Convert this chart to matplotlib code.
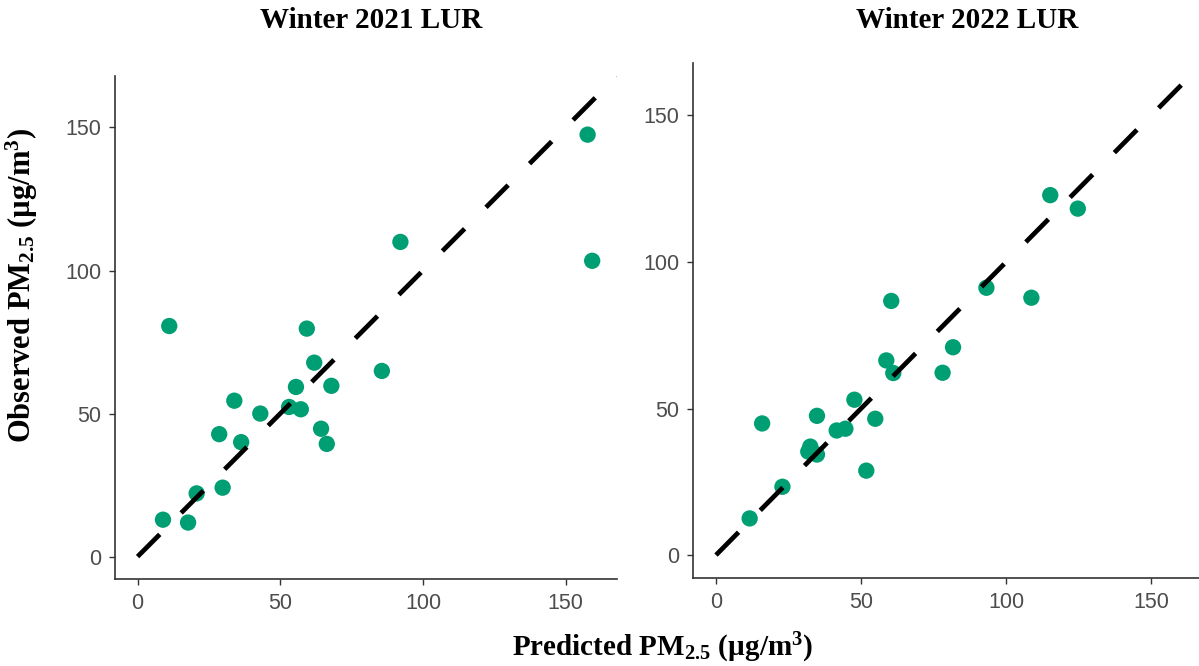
import numpy as np
import matplotlib
matplotlib.use('Agg')
import matplotlib.pyplot as plt

# Winter 2021 LUR: predicted vs observed PM2.5 (ug/m3)
pred_2021 = [11.1, 8.9, 17.7, 20.7, 29.8, 28.6, 33.9, 36.3, 43.0, 53.1, 57.2,
             55.5, 59.3, 61.9, 67.9, 64.3, 66.3, 85.6, 92.1, 157.7, 159.3]
obs_2021 = [80.6, 12.9, 11.9, 22.1, 24.1, 42.8, 54.5, 40.0, 50.0, 52.3, 51.5,
            59.3, 79.7, 67.8, 59.7, 44.7, 39.4, 64.9, 110.0, 147.5, 103.4]

# Winter 2022 LUR
pred_2022 = [11.6, 15.9, 22.9, 32.5, 31.8, 34.8, 34.8, 41.6, 44.6, 47.7, 54.9,
             51.8, 58.7, 61.1, 60.4, 78.1, 81.7, 93.2, 108.7, 115.2, 124.7]
obs_2022 = [12.5, 44.9, 23.3, 37.0, 35.3, 34.3, 47.5, 42.5, 43.1, 53.0, 46.5,
            28.8, 66.4, 62.1, 86.7, 62.2, 70.9, 91.2, 87.8, 122.8, 118.2]

titles = ['Winter 2021 LUR', 'Winter 2022 LUR']
ticks = [0, 50, 100, 150]
lims = (-8, 168)
one_to_one = [0, 168]

green = '#009E73'
axis_col = '#333333'
tick_col = '#4d4d4d'

plt.rcParams['mathtext.fontset'] = 'custom'
plt.rcParams['mathtext.rm'] = 'Liberation Serif:bold'
plt.rcParams['mathtext.bf'] = 'Liberation Serif:bold'
plt.rcParams['mathtext.default'] = 'rm'
plt.rcParams['lines.scale_dashes'] = False

fig = plt.figure(figsize=(11.99, 6.66), dpi=100)

# panel boxes in figure fractions (left, bottom, width, height)
boxes = [[0.0957, 0.1299, 0.4189, 0.7560],
         [0.5778, 0.1314, 0.4259, 0.7745]]
title_x = [371 / 1199, 967 / 1199]
# dash on/off in points, panels have slightly different pixel scales
dashes = [(22.6, 21.8), (23.1, 22.2)]

for i, (px, ob) in enumerate([(pred_2021, obs_2021), (pred_2022, obs_2022)]):
    ax = fig.add_axes(boxes[i])
    ax.plot(one_to_one, one_to_one, color='black', lw=3.4,
            linestyle=(0, dashes[i]), solid_capstyle='butt', zorder=3)
    ax.scatter(px, ob, s=138, color=green, edgecolors='none', zorder=2)
    ax.set_xlim(lims)
    ax.set_ylim(lims)
    ax.set_xticks(ticks)
    ax.set_yticks(ticks)
    for s in ['top', 'right']:
        ax.spines[s].set_visible(False)
    for s in ['left', 'bottom']:
        ax.spines[s].set_color(axis_col)
        ax.spines[s].set_linewidth(1.2)
    ax.tick_params(length=4.5, width=1.0, color=axis_col, labelcolor=tick_col,
                   labelsize=15.5, pad=5)
    for lab in ax.get_xticklabels() + ax.get_yticklabels():
        lab.set_family('Liberation Sans')
    fig.text(title_x[i], 1 - 20 / 666, titles[i], ha='center', va='center',
             family='Liberation Serif', fontweight='bold', fontsize=21)

fig.text(22 / 1199, 1 - 285 / 666, r'Observed PM$_{2.5}$ (µg/m$^{3}$)',
         rotation=90, ha='center', va='center', family='Liberation Serif',
         fontweight='bold', fontsize=22)
fig.text(662 / 1199, 1 - 648 / 666, r'Predicted PM$_{2.5}$ (µg/m$^{3}$)',
         ha='center', va='center', family='Liberation Serif',
         fontweight='bold', fontsize=21)

fig.savefig('out.png', dpi=100)
